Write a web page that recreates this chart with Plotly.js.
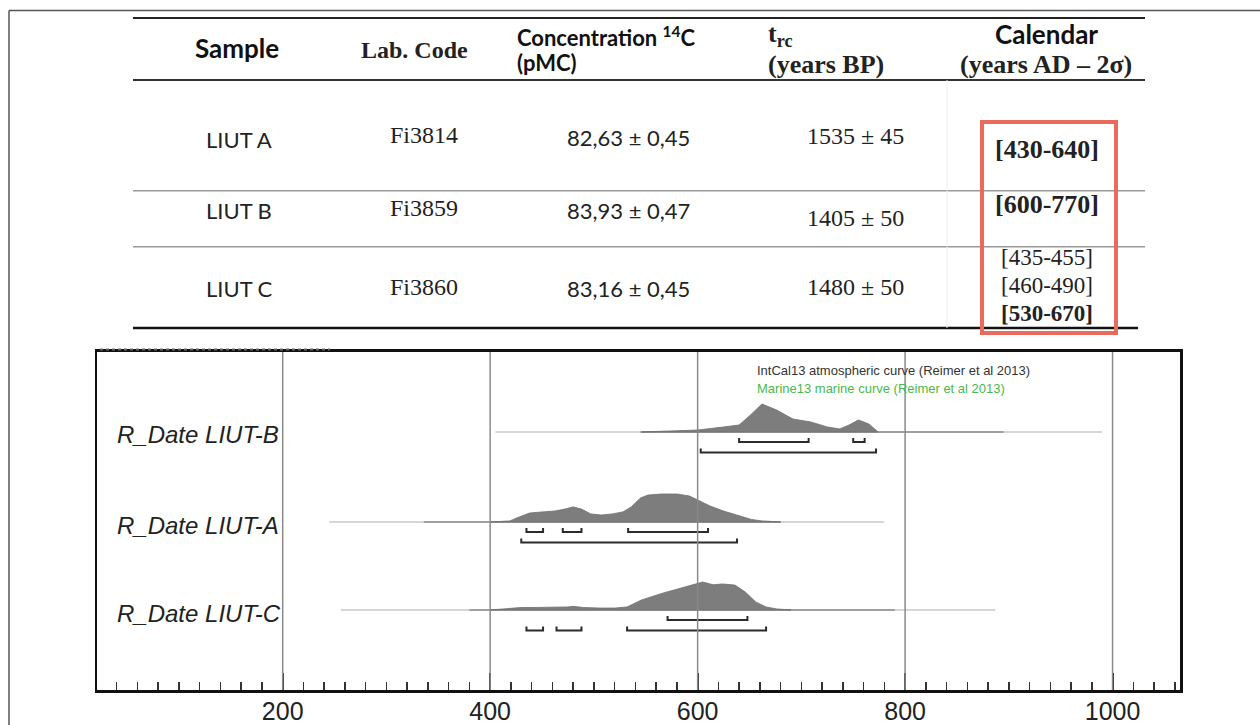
<!DOCTYPE html>
<html><head><meta charset="utf-8">
<script src="https://cdn.plot.ly/plotly-3.0.1.min.js"></script>
<style>html,body{margin:0;padding:0;background:#fff;} #chart{width:1260px;height:725px;}</style>
</head><body><div id="chart"></div>
<script>
// ---------- table data ----------
const samples = ['LIUT A', 'LIUT B', 'LIUT C'];
const labCodes = ['Fi3814', 'Fi3859', 'Fi3860'];
const concentrations = ['82,63 ± 0,45', '83,93 ± 0,47', '83,16 ± 0,45'];
const ages = ['1535 ± 45', '1405 ± 50', '1480 ± 50'];
const calendarRanges = [['[430-640]'], ['[600-770]'], ['[435-455]', '[460-490]', '[530-670]']];
const calendarBold = [[true], [true], [false, false, true]];

// ---------- OxCal plot data ----------
const plotLabels = ['R_Date LIUT-B', 'R_Date LIUT-A', 'R_Date LIUT-C'];
const bYears   = [545, 575, 600, 625, 640, 651, 662, 676, 692, 709, 725, 737, 746, 755, 765, 774];
const bDensity = [0, .04, .07, .18, .25, .61, 1, .79, .46, .36, .18, .11, .25, .43, .29, 0];
const aYears   = [400, 419, 428, 438, 450, 462, 472, 480, 488, 497, 507, 518, 528, 536, 545, 552, 565, 580, 592, 602, 612, 625, 640, 652, 662, 680];
const aDensity = [0, .04, .18, .32, .36, .39, .46, .54, .46, .29, .25, .29, .36, .54, .86, .96, 1, 1, .93, .75, .57, .39, .21, .09, .04, 0];
const cYears   = [400, 415, 430, 445, 460, 475, 480, 490, 505, 520, 532, 546, 567, 587, 605, 615, 624, 636, 646, 656, 666, 676, 690];
const cDensity = [0, .05, .09, .09, .09, .11, .13, .09, .07, .07, .11, .36, .61, .82, 1, .9, .93, .89, .64, .29, .11, .04, 0];
// likelihood line extents: [start, darkStart, darkEnd, end]
const bExtent = [405, 546, 895, 990];
const aExtent = [245, 336, 680, 780];
const cExtent = [256, 380, 790, 887];
// 68.2% and 95.4% ranges
const b68 = [[640, 707], [750, 761]];
const b95 = [[603, 772]];
const a68 = [[435, 451], [470, 488], [533, 610]];
const a95 = [[430, 638]];
const c68 = [[571, 648]];
const c95 = [[435, 451], [464, 488], [532, 666]];
const xTickValues = [200, 400, 600, 800, 1000];
const curveNotes = ['IntCal13 atmospheric curve (Reimer et al 2013)', 'Marine13 marine curve (Reimer et al 2013)'];

// ---------- helpers ----------
const W = 1260, H = 725;
const px = x => x / W, py = y => 1 - y / H;
const SANS = 'Lato, "Open Sans", sans-serif';
const SERIF = '"Liberation Serif", "DejaVu Serif", serif';
const NARROW = '"Liberation Sans Narrow", "Arial Narrow", "Liberation Sans", Arial, sans-serif';

const rows = [
  {years: bYears, dens: bDensity, ext: bExtent, r68: b68, r95: b95},
  {years: aYears, dens: aDensity, ext: aExtent, r68: a68, r95: a95},
  {years: cYears, dens: cDensity, ext: cExtent, r68: c68, r95: c95}
];
const baselines = [258, 168, 80];
const densScale = 28;

const traces = [];
rows.forEach((r, i) => {
  const b = baselines[i];
  traces.push({x: [r.ext[0], r.ext[3]], y: [b, b], mode: 'lines', line: {color: '#c8c8c8', width: 1.6}, hoverinfo: 'skip'});
  traces.push({x: [r.ext[1], r.ext[2]], y: [b, b], mode: 'lines', line: {color: '#8e8e8e', width: 1.6}, hoverinfo: 'skip'});
  const xs = r.years.concat(r.years.slice().reverse());
  const ys = r.dens.map(d => b + d * densScale).concat(r.years.map(() => b));
  traces.push({x: xs, y: ys, mode: 'lines', fill: 'toself', fillcolor: '#7d7d7d', line: {color: '#6e6e6e', width: 0.8}, hoverinfo: 'skip'});
  [[r.r68, b - 10], [r.r95, b - 20.5]].forEach(([ranges, yb]) => {
    const bx = [], by = [];
    ranges.forEach(([s, e]) => { bx.push(s, s, e, e, null); by.push(yb + 4, yb, yb, yb + 4, null); });
    traces.push({x: bx, y: by, mode: 'lines', line: {color: '#2b2b2b', width: 2}, hoverinfo: 'skip', connectgaps: false});
  });
});

const annotations = [];
function ann(text, x, y, font, xanchor) {
  annotations.push({text, x: px(x), y: py(y), xref: 'paper', yref: 'paper', showarrow: false,
    xanchor: xanchor || 'center', yanchor: 'middle', font});
}
// table header
ann('<b>Sample</b>', 237, 48, {family: SANS, size: 26, color: '#111'});
ann('<b>Lab. Code</b>', 414, 50, {family: SERIF, size: 24, color: '#222'});
ann('<b>Concentration <sup>14</sup>C</b>', 515, 37, {family: SANS, size: 22, color: '#111'}, 'left');
ann('<b>(pMC)</b>', 515, 63, {family: SANS, size: 22, color: '#111'}, 'left');
ann('<b>t<sub>rc</sub></b>', 766, 35, {family: SERIF, size: 26, color: '#222'}, 'left');
ann('<b>(years BP)</b>', 766, 64, {family: SERIF, size: 26, color: '#222'}, 'left');
ann('<b>Calendar</b>', 1046, 34, {family: SANS, size: 26, color: '#111'});
ann('<b>(years AD – 2σ)</b>', 1046, 64, {family: SERIF, size: 26, color: '#222'});
// table body
const rowSample = [140, 210, 288], rowLab = [135, 208, 287], rowConc = [138, 210, 288], rowAge = [136, 218, 287];
const calY = [[149], [204], [258, 286, 314]];
samples.forEach((s, i) => {
  ann(s, 239, rowSample[i], {family: SANS, size: 22, color: '#222'});
  ann(labCodes[i], 424, rowLab[i], {family: SERIF, size: 24, color: '#222'});
  ann(concentrations[i], 628, rowConc[i], {family: SANS, size: 22, color: '#222'});
  ann(ages[i], 855, rowAge[i], {family: SERIF, size: 24, color: '#222'});
  calendarRanges[i].forEach((c, j) => {
    ann(calendarBold[i][j] ? '<b>' + c + '</b>' : c, 1047, calY[i][j], {family: SERIF, size: i === 2 ? 23 : 26, color: '#222'});
  });
});
// plot labels
plotLabels.forEach((l, i) => {
  annotations.push({text: '<i>' + l + '</i>', x: px(115), y: baselines[i] - 3, xref: 'paper', yref: 'y',
    showarrow: false, xanchor: 'left', yanchor: 'middle', font: {family: NARROW, size: 24, color: '#222'}});
});
ann(curveNotes[0], 755, 370, {family: NARROW, size: 13, color: '#333'}, 'left');
ann(curveNotes[1], 755, 388, {family: NARROW, size: 13, color: '#4cb84c'}, 'left');

// shapes
const shapes = [];
function hline(x0, x1, y, color, width, dash) {
  shapes.push({type: 'line', xref: 'paper', yref: 'paper', x0: px(x0), x1: px(x1), y0: py(y), y1: py(y), line: {color, width, dash: dash || 'solid'}});
}
function vline(x, y0, y1, color, width) {
  shapes.push({type: 'line', xref: 'paper', yref: 'paper', x0: px(x), x1: px(x), y0: py(y0), y1: py(y1), line: {color, width}});
}
// outer frame
hline(9, 1262, 10.5, '#555', 1.5);
vline(9, 10.5, 727, '#555', 1.5);
// table rules
hline(133, 1145, 18, '#222', 2);
hline(133, 1145, 80, '#333', 2);
hline(133, 1145, 190.7, '#9a9a9a', 1.5);
hline(133, 1145, 246.7, '#9a9a9a', 1.5);
hline(133, 1138, 328, '#111', 2.5);
vline(947, 80, 328, '#efefef', 1);
// red box
shapes.push({type: 'rect', xref: 'paper', yref: 'paper', x0: px(982), x1: px(1116), y0: py(333), y1: py(122), line: {color: '#ea6a5c', width: 4}, layer: 'above'});
// cropped text remnant above the plot
hline(100, 330, 349.5, '#666', 2, 'dot');
// vertical grid lines
xTickValues.forEach(v => {
  shapes.push({type: 'line', xref: 'x', yref: 'paper', x0: v, x1: v, y0: py(690), y1: py(352), line: {color: '#8a8a8a', width: 1.5}, layer: 'above'});
});

const layout = {
  width: W, height: H, margin: {l: 0, r: 0, t: 0, b: 0},
  paper_bgcolor: '#fff', plot_bgcolor: '#fff', showlegend: false, hovermode: false,
  xaxis: {domain: [px(97), px(1180)], range: [21, 1065], tickvals: xTickValues, ticktext: xTickValues.map(String),
    showgrid: false, zeroline: false, ticks: 'inside', ticklen: 17, tickwidth: 2, tickcolor: '#222',
    minor: {dtick: 20, tick0: 0, ticks: 'inside', ticklen: 8, tickwidth: 1.5, tickcolor: '#333', showgrid: false},
    showline: true, linewidth: 3, linecolor: '#111', mirror: true, ticklabelstandoff: -3,
    tickfont: {family: NARROW, size: 25, color: '#222'}},
  yaxis: {domain: [py(690), py(352)], range: [0, 338], showline: true, linewidth: 2.5, linecolor: '#111', mirror: true,
    showticklabels: false, showgrid: false, zeroline: false, ticks: ''},
  annotations, shapes
};
Plotly.newPlot('chart', traces, layout, {displayModeBar: false, staticPlot: true});
</script></body></html>
